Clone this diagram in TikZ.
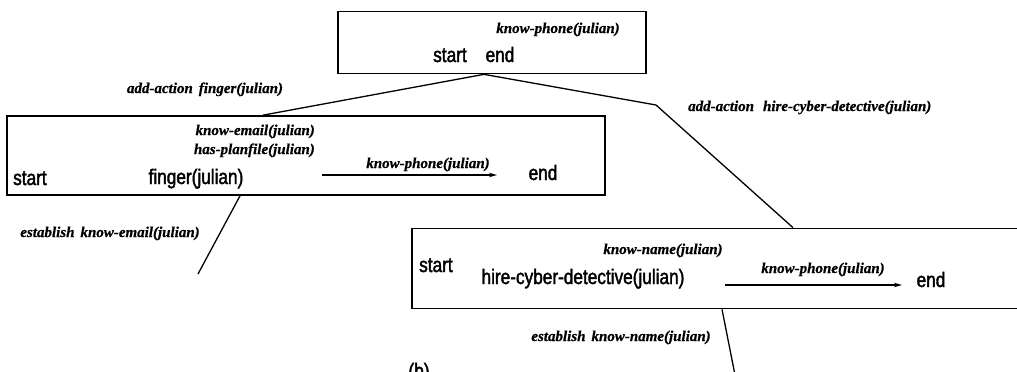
\documentclass[tikz,border=0pt]{standalone}
\usepackage{fontspec}
\setmainfont{Liberation Serif}[BoldItalicFeatures={FakeBold=0.6}]
\newfontfamily\plansans[FakeStretch=0.82,FakeBold=1.8]{Liberation Sans}
\usetikzlibrary{arrows.meta}
\tikzset{
  stepbox/.style={draw, line width=1.7pt, rectangle, inner sep=0pt},
  opname/.style={font=\plansans\fontsize{21}{21}\selectfont, inner sep=0pt, anchor=base},
  condlbl/.style={font=\bfseries\itshape\fontsize{15}{15}\selectfont, inner sep=0pt, anchor=base},
  link/.style={line width=1.3pt},
  causal/.style={line width=1.6pt, -{Stealth[length=8pt,width=4.5pt]}},
}
\begin{document}
\begin{tikzpicture}[x=1pt,y=-1pt]
\useasboundingbox (0,0) rectangle (1017,372);

% plan boxes
\node[stepbox, minimum width=308pt, minimum height=62pt] (goal) at (492,42.5) {};
\node[stepbox, minimum width=598pt, minimum height=79pt] (fplan) at (306,155.5) {};
\node[stepbox, minimum width=628pt, minimum height=80pt] (hplan) at (726,268.5) {};

% initial plan
\node[condlbl] (g-phone) at (558,33) {know-phone(julian)};
\node[opname] (g-start) at (450,62) {start};
\node[opname] (g-end) at (500,62) {end};

% refinement edges
\coordinate (bend) at (656,105);
\draw[link] ([xshift=-8pt]goal.south) -- ([xshift=-43pt]fplan.north);
\draw[link] ([xshift=-8pt]goal.south) -- (bend) -- ([xshift=67pt]hplan.north);
\node[condlbl] (lbl-f) at (205,93) {add-action\hspace{6pt}finger(julian)};
\node[condlbl, anchor=base west] (lbl-h) at (688,111) {add-action\hspace{9pt}hire-cyber-detective(julian)};

% plan with finger
\node[condlbl, anchor=base east] (f-email) at (315,135) {know-email(julian)};
\node[condlbl, anchor=base east] (f-plan) at (315,154) {has-planfile(julian)};
\node[condlbl] (f-phone) at (428,168) {know-phone(julian)};
\node[opname, anchor=base west] (f-start) at (13,185) {start};
\node[opname] (f-step) at (196,184) {finger(julian)};
\node[opname] (f-end) at (543,180) {end};
\coordinate (fa) at (322,175);
\coordinate (fb) at (497,175);
\draw[causal] (fa) -- (fb);

\coordinate (emailend) at (198,274);
\draw[link] ([xshift=-66pt]fplan.south) -- (emailend);
\node[condlbl] (lbl-e) at (110,237) {establish\hspace{6pt}know-email(julian)};

% plan with hire-cyber-detective
\node[opname, anchor=base west] (h-start) at (419,272) {start};
\node[opname] (h-step) at (583,284) {hire-cyber-detective(julian)};
\node[condlbl] (h-name) at (663,254) {know-name(julian)};
\node[condlbl] (h-phone) at (823,273) {know-phone(julian)};
\node[opname] (h-end) at (931,287) {end};
\coordinate (ha) at (725,285);
\coordinate (hb) at (902,285);
\draw[causal] (ha) -- (hb);

\coordinate (nameend) at (736,380);
\draw[link] ([xshift=-4pt]hplan.south) -- (nameend);
\node[condlbl] (lbl-n) at (621,341) {establish\hspace{6pt}know-name(julian)};

\node[opname] (caption) at (419,378) {(b)};
\end{tikzpicture}
\end{document}
